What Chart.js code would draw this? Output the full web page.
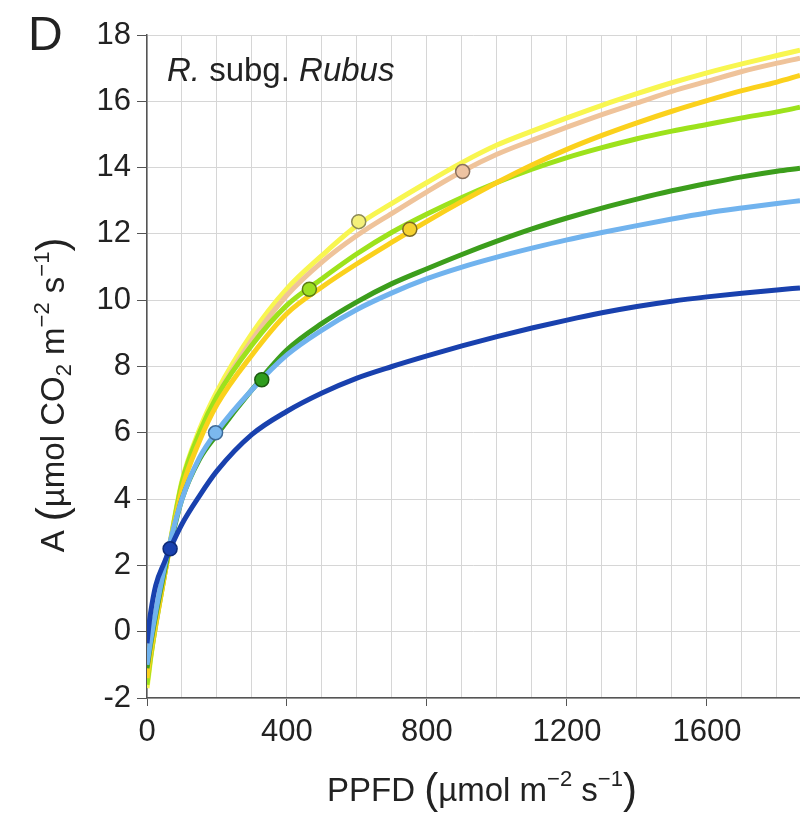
<!DOCTYPE html>
<html>
<head>
<meta charset="utf-8">
<script src="https://cdn.jsdelivr.net/npm/chart.js@4/dist/chart.umd.min.js"></script>
<style>
  body { margin: 0; background: #fff; }
  #wrap { width: 800px; height: 814px; }
</style>
</head>
<body>
<div id="wrap"><canvas id="myChart" width="800" height="814"></canvas></div>
<script>
// PPFD sample positions the curves were read at
const PPFD = [0, 5, 10, 25, 50, 66, 100, 150, 200, 300, 400, 500, 600, 700, 800, 900, 1000, 1100, 1200, 1300, 1400, 1500, 1600, 1700, 1800, 1866];

// net assimilation
const A_YELLOW = [-1.7, -1.3, -0.85, 0.25, 1.75, 2.7, 4.55, 6.1, 7.25, 9.0, 10.35, 11.35, 12.25, 12.92, 13.55, 14.15, 14.68, 15.1, 15.5, 15.88, 16.23, 16.56, 16.86, 17.13, 17.38, 17.54];
const A_PEACH  = [-1.5, -1.12, -0.75, 0.2, 1.7, 2.65, 4.45, 5.95, 7.1, 8.8, 10.15, 11.15, 11.95, 12.62, 13.27, 13.88, 14.4, 14.82, 15.22, 15.6, 15.95, 16.3, 16.6, 16.9, 17.15, 17.3];
const A_LGREEN = [-1.6, -1.2, -0.8, 0.2, 1.7, 2.65, 4.5, 6.0, 7.1, 8.65, 9.85, 10.65, 11.4, 12.05, 12.6, 13.1, 13.55, 13.95, 14.3, 14.6, 14.87, 15.1, 15.3, 15.5, 15.68, 15.82];
const A_GOLD   = [-1.4, -1.02, -0.65, 0.25, 1.7, 2.6, 4.3, 5.75, 6.85, 8.35, 9.6, 10.4, 11.1, 11.75, 12.38, 12.98, 13.55, 14.08, 14.55, 14.97, 15.35, 15.7, 16.02, 16.32, 16.58, 16.78];
const A_DGREEN = [-1.1, -0.75, -0.4, 0.5, 1.85, 2.6, 4.0, 5.2, 5.95, 7.3, 8.5, 9.3, 9.95, 10.5, 10.95, 11.38, 11.78, 12.15, 12.48, 12.78, 13.05, 13.3, 13.52, 13.72, 13.89, 13.98];
const A_LBLUE  = [-1.0, -0.65, -0.3, 0.6, 1.95, 2.7, 4.0, 5.25, 6.05, 7.3, 8.35, 9.1, 9.72, 10.22, 10.65, 11.0, 11.3, 11.57, 11.82, 12.04, 12.25, 12.45, 12.63, 12.78, 12.92, 13.0];
const A_DBLUE  = [-0.35, 0.15, 0.55, 1.4, 2.1, 2.5, 3.25, 4.1, 4.85, 5.95, 6.65, 7.2, 7.65, 8.0, 8.32, 8.62, 8.9, 9.16, 9.4, 9.62, 9.81, 9.97, 10.1, 10.21, 10.31, 10.37];

// one marked point per curve
const POINT_X = [66, 196, 328, 464, 605, 751, 902];
const POINT_Y = [2.5, 6.0, 7.6, 10.33, 12.37, 12.14, 13.88];

// axis ticks
const X_GRID = [0, 100, 200, 300, 400, 500, 600, 700, 800, 900, 1000, 1100, 1200, 1300, 1400, 1500, 1600, 1700, 1800];
const X_LABEL_STEP = 400;
const Y_MIN = -2, Y_MAX = 18, Y_STEP = 2;

const FONT = '"Liberation Sans", Arial, Helvetica, sans-serif';

// colours and draw order (lower order is drawn on top)
const curves = [
  { data: A_YELLOW, color: '#f8f650', order: 7 },
  { data: A_PEACH,  color: '#efc39a', order: 6 },
  { data: A_LGREEN, color: '#9de21c', order: 5 },
  { data: A_GOLD,   color: '#fbd11c', order: 4 },
  { data: A_DGREEN, color: '#3c9e1c', order: 3 },
  { data: A_LBLUE,  color: '#71b3ee', order: 2 },
  { data: A_DBLUE,  color: '#1941ae', order: 1 }
];
const pointStyles = [
  { fill: '#1941ae', edge: '#0d2a78' },
  { fill: '#7bb8ee', edge: '#3d6a98' },
  { fill: '#2f9d1e', edge: '#1c5a10' },
  { fill: '#9de022', edge: '#5c7a16' },
  { fill: '#f4f07a', edge: '#8c8a55' },
  { fill: '#f6d230', edge: '#7c6a22' },
  { fill: '#eec3a2', edge: '#8a705e' }
];

const datasets = [];
curves.forEach(c => {
  datasets.push({
    type: 'line',
    data: PPFD.map((x, i) => ({ x: x, y: c.data[i] })),
    borderColor: c.color,
    borderWidth: 5,
    pointRadius: 0,
    fill: false,
    cubicInterpolationMode: 'monotone',
    order: c.order
  });
});
POINT_X.forEach((x, i) => {
  datasets.push({
    type: 'scatter',
    data: [{ x: x, y: POINT_Y[i] }],
    pointRadius: 7,
    pointBackgroundColor: pointStyles[i].fill,
    pointBorderColor: pointStyles[i].edge,
    pointBorderWidth: 1.5,
    order: 0
  });
});

// draws a run of text pieces (sizes, italics, super/subscripts) from a start point
function drawRich(ctx, parts, x, y, align) {
  let total = 0;
  parts.forEach(p => {
    ctx.font = (p.italic ? 'italic ' : '') + p.size + 'px ' + FONT;
    p.w = ctx.measureText(p.t).width;
    total += p.w;
  });
  let cx = align === 'center' ? x - total / 2 : x;
  parts.forEach(p => {
    ctx.font = (p.italic ? 'italic ' : '') + p.size + 'px ' + FONT;
    ctx.fillText(p.t, cx, y + (p.dy || 0));
    cx += p.w;
  });
}

const textPlugin = {
  id: 'panelText',
  afterDraw(chart) {
    const ctx = chart.ctx;
    ctx.save();
    ctx.fillStyle = '#222';
    ctx.textBaseline = 'alphabetic';
    ctx.textAlign = 'left';

    // panel letter
    ctx.font = '48px ' + FONT;
    ctx.fillText('D', 28, 50);

    // group label
    drawRich(ctx, [
      { t: 'R.', size: 33, italic: true },
      { t: ' subg. ', size: 33 },
      { t: 'Rubus', size: 33, italic: true }
    ], 167, 81, 'left');

    // x axis title
    drawRich(ctx, [
      { t: 'PPFD ', size: 33 },
      { t: '(', size: 42, dy: 2 },
      { t: 'µmol m', size: 33 },
      { t: '−2', size: 22, dy: -15 },
      { t: ' s', size: 33 },
      { t: '−1', size: 22, dy: -15 },
      { t: ')', size: 42, dy: 2 }
    ], 482, 801, 'center');

    // y axis title
    ctx.translate(64, 395);
    ctx.rotate(-Math.PI / 2);
    drawRich(ctx, [
      { t: 'A ', size: 33 },
      { t: '(', size: 42, dy: 2 },
      { t: 'µmol CO', size: 33 },
      { t: '2', size: 22, dy: 7 },
      { t: ' m', size: 33 },
      { t: '−2', size: 22, dy: -15 },
      { t: ' s', size: 33 },
      { t: '−1', size: 22, dy: -15 },
      { t: ')', size: 42, dy: 2 }
    ], 0, 0, 'center');
    ctx.restore();
  }
};

const ctx = document.getElementById('myChart').getContext('2d');
new Chart(ctx, {
  data: { datasets: datasets },
  options: {
    responsive: false,
    animation: false,
    events: [],
    layout: { autoPadding: false, padding: { top: 35, right: 0, left: 0, bottom: 0 } },
    plugins: { legend: { display: false }, tooltip: { enabled: false } },
    scales: {
      x: {
        type: 'linear',
        min: 0,
        max: 1866,
        afterBuildTicks: axis => { axis.ticks = X_GRID.map(v => ({ value: v })); },
        afterFit: axis => { axis.height = 116; axis.paddingLeft = 0; axis.paddingRight = 0; },
        ticks: {
          autoSkip: false,
          maxRotation: 0,
          padding: 8,
          color: '#222',
          font: { family: FONT, size: 31 },
          callback: v => (v % X_LABEL_STEP === 0 ? String(v) : '')
        },
        grid: {
          color: '#d6d6d6',
          lineWidth: 1,
          tickLength: 8,
          tickColor: c => (c.tick && c.tick.value % X_LABEL_STEP === 0 ? '#555' : 'rgba(0,0,0,0)')
        },
        border: { color: '#555', width: 1.5 }
      },
      y: {
        type: 'linear',
        min: Y_MIN,
        max: Y_MAX,
        afterFit: axis => { axis.width = 147; axis.paddingTop = 0; axis.paddingBottom = 0; },
        ticks: {
          stepSize: Y_STEP,
          padding: 6,
          color: '#222',
          font: { family: FONT, size: 31 }
        },
        grid: {
          color: '#d6d6d6',
          lineWidth: 1,
          tickLength: 10,
          tickColor: '#555'
        },
        border: { color: '#555', width: 1.5 }
      }
    }
  },
  plugins: [textPlugin]
});
</script>
</body>
</html>
